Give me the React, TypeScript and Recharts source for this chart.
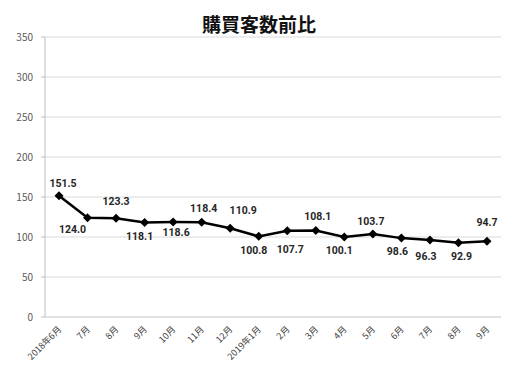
import { LineChart, Line, XAxis, YAxis, CartesianGrid } from 'recharts';

const months = ['2018年6月', '7月', '8月', '9月', '10月', '11月', '12月', '2019年1月', '2月', '3月', '4月', '5月', '6月', '7月', '8月', '9月'];
const ratio = [151.5, 124.0, 123.3, 118.1, 118.6, 118.4, 110.9, 100.8, 107.7, 108.1, 100.1, 103.7, 98.6, 96.3, 92.9, 94.7];
const yTicks = [0, 50, 100, 150, 200, 250, 300, 350];

// hand-placed label offsets [dx, dy] relative to each point, as in the source chart
const labelNudge: [number, number][] = [
  [4, -12], [-15, 12], [0, -16], [-5, 15], [3, 11], [2, -13], [13, -17], [-5, 15],
  [3, 19], [2, -13], [-5, 14], [-2, -12], [-4, 14], [-4, 17], [3, 15], [0, -18],
];

const data = months.map((m, i) => ({ month: m, value: ratio[i] }));

const FONT = '"Noto Sans CJK JP", "Noto Sans", sans-serif';

const Diamond = (props: any) => {
  const { cx, cy, index } = props;
  if (cx == null || cy == null) return null;
  const r = 4.5;
  return (
    <polygon
      key={`d-${index}`}
      points={`${cx},${cy - r} ${cx + r},${cy} ${cx},${cy + r} ${cx - r},${cy}`}
      fill="#000"
    />
  );
};

const PointLabel = (props: any) => {
  const { x, y, value, index } = props;
  const [dx, dy] = labelNudge[index] ?? [0, -12];
  return (
    <text
      x={x + dx}
      y={y + dy}
      textAnchor="middle"
      dominantBaseline="middle"
      fontSize={10.5}
      fontWeight="bold"
      fill="#262626"
      fontFamily="Roboto, sans-serif"
    >
      {Number(value).toFixed(1)}
    </text>
  );
};

const MonthTick = (props: any) => {
  const { x, y, payload } = props;
  return (
    <text
      transform={`translate(${x + 3},${y + 5}) rotate(-45)`}
      textAnchor="end"
      fontSize={9}
      fill="#404040"
      fontFamily={FONT}
    >
      {payload.value}
    </text>
  );
};

export default function App() {
  return (
    <div style={{ position: 'relative', width: 518, height: 380, margin: -8, background: '#fff' }}>
      <div
        style={{
          position: 'absolute',
          left: 2,
          top: 1,
          width: 510,
          height: 375,
          border: '1px solid #8c8c8c',
        }}
      />
      <div
        style={{
          position: 'absolute',
          left: 0,
          top: 12,
          width: 518,
          textAlign: 'center',
          fontFamily: FONT,
          fontWeight: 'bold',
          fontSize: 19,
          lineHeight: '24px',
          color: '#111',
        }}
      >
        購買客数前比
      </div>
      <LineChart
        width={518}
        height={380}
        data={data}
        margin={{ top: 37, right: 17, bottom: 0, left: 0 }}
        style={{ position: 'absolute', left: 0, top: 0 }}
      >
        <CartesianGrid vertical={false} stroke="#d9d9d9" />
        <XAxis
          dataKey="month"
          interval={0}
          height={63}
          padding={{ left: 14, right: 14 }}
          tickLine={false}
          axisLine={{ stroke: '#d9d9d9' }}
          tick={<MonthTick />}
        />
        <YAxis
          width={45}
          domain={[0, 350]}
          ticks={yTicks}
          tickSize={4}
          tickMargin={8}
          axisLine={{ stroke: '#bfbfbf' }}
          tickLine={{ stroke: '#bfbfbf' }}
          tick={{ fontSize: 10, fill: '#595959', fontFamily: FONT }}
        />
        <Line
          dataKey="value"
          stroke="#000"
          strokeWidth={2.5}
          dot={<Diamond />}
          activeDot={false}
          label={<PointLabel />}
          isAnimationActive={false}
        />
      </LineChart>
    </div>
  );
}
